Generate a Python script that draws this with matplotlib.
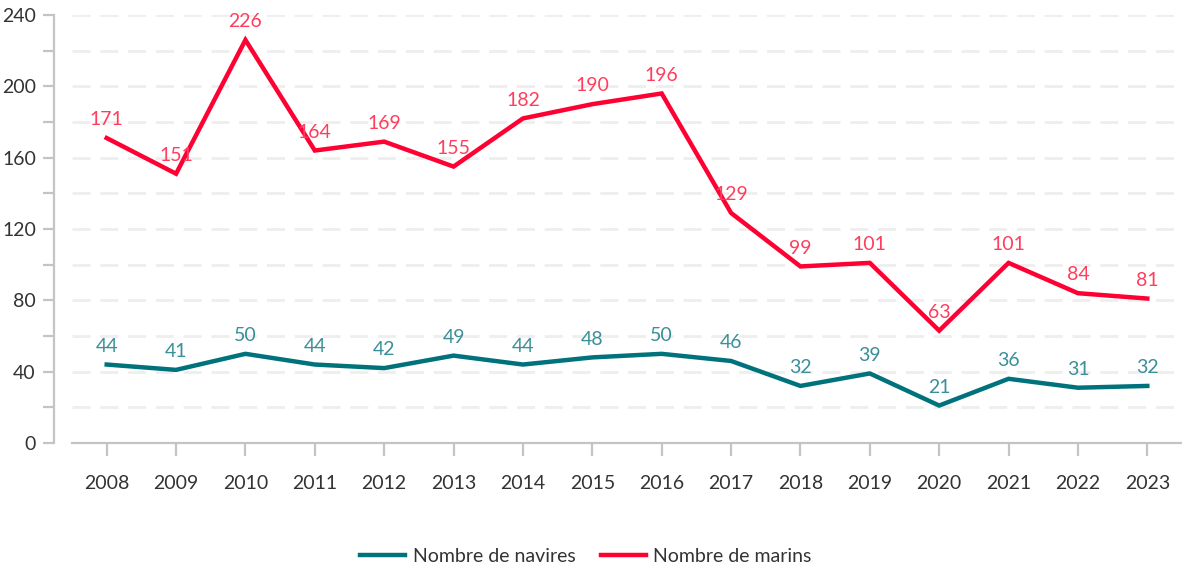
import matplotlib
matplotlib.use("Agg")
import matplotlib.pyplot as plt
from matplotlib.ticker import MultipleLocator

years = ["2008", "2009", "2010", "2011", "2012", "2013", "2014", "2015",
         "2016", "2017", "2018", "2019", "2020", "2021", "2022", "2023"]
navires = [44, 41, 50, 44, 42, 49, 44, 48, 50, 46, 32, 39, 21, 36, 31, 32]
marins = [171, 151, 226, 164, 169, 155, 182, 190, 196, 129, 99, 101, 63, 101, 84, 81]

TEAL = "#00727c"
TEAL_TXT = "#3a8f98"
RED = "#ff0033"
RED_TXT = "#ff3d5c"
GRAY = "#c4c4c4"
TXT = "#333333"
W = 'normal'
FS = 14

plt.rcParams['font.family'] = ['Lato', 'DejaVu Sans']

fig = plt.figure(figsize=(11.82, 5.69), dpi=100)
ax = fig.add_axes([72/1182, 1-443/569, 1-72/1182, (443-15)/569])

x = list(range(len(years)))
ax.plot(x, navires, color=TEAL, lw=3.2, solid_joinstyle='miter', label="Nombre de navires", zorder=3)
ax.plot(x, marins, color=RED, lw=3.2, solid_joinstyle='miter', label="Nombre de marins", zorder=3)

for xi, v in zip(x, navires):
    ax.annotate(str(v), (xi, v), xytext=(0, 13.2), textcoords='offset points',
                ha='center', va='center', color=TEAL_TXT, fontsize=FS, fontweight=W, zorder=4)
for xi, v in zip(x, marins):
    ax.annotate(str(v), (xi, v), xytext=(0, 13.2), textcoords='offset points',
                ha='center', va='center', color=RED_TXT, fontsize=FS, fontweight=W, zorder=4)

ax.set_xlim(-0.5, len(years) - 0.5)
ax.set_ylim(0, 240)
ax.set_xticks(x)
ax.set_xticklabels(years)
ax.yaxis.set_major_locator(MultipleLocator(40))
ax.yaxis.set_minor_locator(MultipleLocator(20))

for yv in range(20, 241, 20):
    ax.axhline(yv, color="#eeeeee", lw=2.0, dashes=(6.5, 3.5), zorder=1)

for s in ['top', 'right']:
    ax.spines[s].set_visible(False)
ax.spines['left'].set_position(('outward', 13))
ax.spines['left'].set_color(GRAY)
ax.spines['left'].set_linewidth(1.6)
ax.spines['bottom'].set_color(GRAY)
ax.spines['bottom'].set_linewidth(1.6)

ax.tick_params(axis='y', which='both', length=8, width=1.6, color=GRAY, pad=5,
               labelsize=FS, labelcolor=TXT)
ax.tick_params(axis='x', length=9, width=1.6, color=GRAY, pad=14,
               labelsize=FS, labelcolor=TXT)
for lab in ax.get_xticklabels() + ax.get_yticklabels():
    lab.set_fontweight(W)

leg = fig.legend(loc='center', bbox_to_anchor=(586/1182, 1-556/569), ncol=2, frameon=False,
                 fontsize=FS, handlelength=2.3, handletextpad=0.4, columnspacing=1.3)
for t in leg.get_texts():
    t.set_color(TXT)
    t.set_fontweight(W)
for h in leg.get_lines():
    h.set_linewidth(3.2)

fig.savefig("out.png", dpi=100)
